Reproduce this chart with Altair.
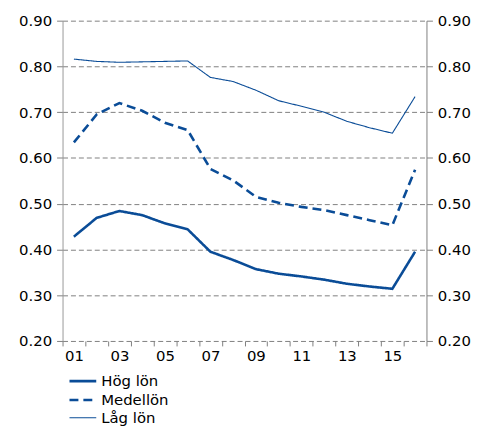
import altair as alt
import pandas as pd

years = ["01", "02", "03", "04", "05", "06", "07", "08",
         "09", "10", "11", "12", "13", "14", "15", "16"]
series_names = ["Hög lön", "Medellön", "Låg lön"]
hog = [0.428, 0.469, 0.484, 0.475, 0.457, 0.444, 0.395, 0.377,
       0.357, 0.347, 0.341, 0.334, 0.325, 0.319, 0.314, 0.395]
medel = [0.634, 0.695, 0.720, 0.703, 0.677, 0.661, 0.576, 0.551,
         0.515, 0.502, 0.493, 0.486, 0.475, 0.464, 0.453, 0.574]
lag = [0.816, 0.811, 0.809, 0.810, 0.811, 0.812, 0.776, 0.767,
       0.748, 0.725, 0.713, 0.700, 0.680, 0.666, 0.654, 0.734]
y_ticks = [0.2, 0.3, 0.4, 0.5, 0.6, 0.7, 0.8, 0.9]

rows = []
for name, vals in zip(series_names, [hog, medel, lag]):
    for yr, v in zip(years, vals):
        rows.append({"year": yr, "value": v, "series": name})
df = pd.DataFrame(rows)

BLUE = "#0a4c97"
GRAY = "#808080"
FONT = "DejaVu Sans"
TXT = "#000000"

x_enc = alt.X(
    "year:O",
    sort=years,
    scale=alt.Scale(type="band", paddingInner=0, paddingOuter=0),
    axis=alt.Axis(
        title=None, tickBand="extent", domain=False, labelAngle=0,
        labelExpr="toNumber(datum.value) % 2 == 1 ? datum.label : ''",
        tickColor=GRAY, tickSize=5, labelFontSize=15, labelFont=FONT,
        labelColor=TXT, labelPadding=3, grid=False,
    ),
)

y_scale = alt.Scale(domain=[0.2, 0.9], nice=False, zero=False)

lines = alt.Chart(df).mark_line().encode(
    x=x_enc,
    y=alt.Y(
        "value:Q", scale=y_scale,
        axis=alt.Axis(
            title=None, values=y_ticks, format=".2f", orient="left",
            grid=True, gridDash=[5, 3], gridColor=GRAY, gridWidth=1,
            domainColor="#999999", tickColor=GRAY, tickSize=6,
            labelFontSize=15, labelFont=FONT, labelColor=TXT,
            labelPadding=5,
        ),
    ),
    color=alt.Color(
        "series:N", sort=series_names,
        scale=alt.Scale(domain=series_names, range=[BLUE, BLUE, BLUE]),
        legend=alt.Legend(
            title=None, orient="none", legendX=12, legendY=355,
            direction="vertical", padding=0, rowPadding=2,
            symbolType="M-2,0H2", symbolSize=182, labelOffset=10,
            labelFontSize=15, labelFont=FONT, labelColor=TXT,
        ),
    ),
    strokeDash=alt.StrokeDash(
        "series:N", sort=series_names,
        scale=alt.Scale(type="ordinal", domain=series_names,
                        range=[[1, 0], [9, 5], [1, 0]]),
    ),
    strokeWidth=alt.StrokeWidth(
        "series:N", sort=series_names,
        scale=alt.Scale(type="ordinal", domain=series_names,
                        range=[2.6, 2.6, 1.1]),
    ),
)

right_axis = alt.Chart(df).mark_line(opacity=0).encode(
    x=x_enc,
    y=alt.Y(
        "value:Q", scale=y_scale,
        axis=alt.Axis(
            title=None, values=y_ticks, format=".2f", orient="right",
            grid=False, domainColor=GRAY, tickColor=GRAY, tickSize=6,
            labelFontSize=15, labelFont=FONT, labelColor=TXT,
            labelPadding=5,
        ),
    ),
    detail="series:N",
)

chart = alt.layer(lines, right_axis).resolve_axis(y="independent").properties(
    width=367, height=323,
    autosize=alt.AutoSizeParams(type="none"),
    padding={"left": 55, "top": 11, "right": 55, "bottom": 85},
).configure_view(stroke=None)

chart.save("out.html", embed_options={"renderer": "svg", "actions": False})
